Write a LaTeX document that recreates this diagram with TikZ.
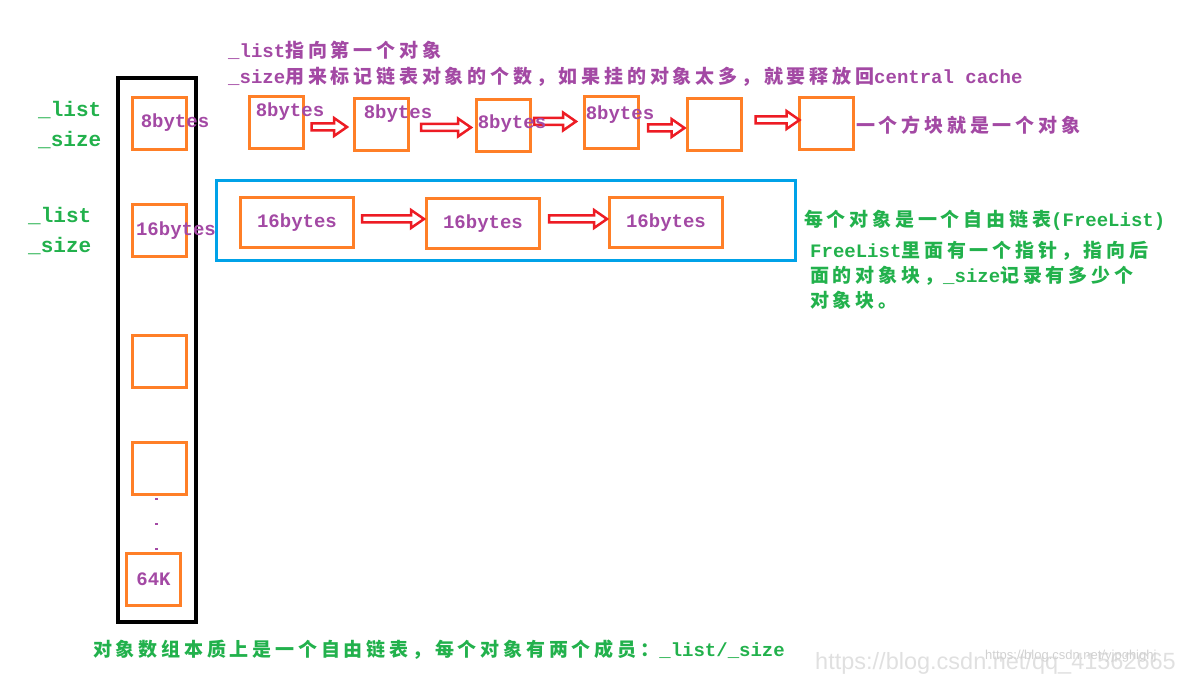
\documentclass[tikz,border=0pt]{standalone}
\usepackage{fontspec}
\setmainfont{Liberation Mono}
\newfontfamily\cjk{Noto Sans CJK SC}[LetterSpace=20]
\newfontfamily\wmfont{Liberation Sans}
\usetikzlibrary{calc}

\definecolor{mora}{RGB}{255,127,39}
\definecolor{mred}{RGB}{237,28,36}
\definecolor{mblu}{RGB}{0,162,232}
\definecolor{mpur}{RGB}{163,73,164}
\definecolor{mgre}{RGB}{34,177,76}
\newcommand\zhtxt[1]{{\cjk #1}}

\begin{document}
\begin{tikzpicture}[x=1pt, y=-1pt,
		blk/.style={draw=mora, line width=3pt, minimum width=54pt, minimum height=52pt, inner sep=0pt},
		wide/.style={blk, minimum width=113pt, minimum height=50pt},
		lbl/.style={text=mpur, font=\bfseries\fontsize{19}{22}\selectfont, inner sep=0pt},
		note/.style={lbl, anchor=west},
		gnote/.style={note, text=mgre},
		fat/.style={draw=mred, line width=2.5pt, fill=white, line join=miter,
				to path={let \p1=(\tikztostart), \p2=(\tikztotarget) in
						(\x1,{\y1+3.5pt}) -- ({\x2-13pt},{\y1+3.5pt}) -- ({\x2-13pt},{\y1+9pt}) -- (\x2,\y1)
						-- ({\x2-13pt},{\y1-9pt}) -- ({\x2-13pt},{\y1-3.5pt}) -- (\x1,{\y1-3.5pt}) -- cycle}}]
	\useasboundingbox (0,0) rectangle (1203,676);

	% --- Object array (column) ---
	\draw[line width=4pt] (118,78) rectangle (196,622);
	\node[blk] (col1) at (159,124) {};
	\node[blk] (col2) at (159.5,231) {};
	\node[blk] (col3) at (159.5,362) {};
	\node[blk] (col4) at (159.5,468) {};
	\node[blk, lbl] (col5) at (153.5,579.5) {64K};
	\node[lbl] (col1t) at (175,123) {8bytes};
	\node[lbl] (col2t) at (176,231) {16bytes};
	\foreach \y in {499,524,549} {
			\fill[mpur] (155,\y-1) rectangle (158,\y+1); % the dots
		}

	% members of each entry
	\node[gnote, font=\bfseries\fontsize{21}{30}\selectfont, align=left] (ls1) at (38,125) {\_list\\\_size};
	\node[gnote, font=\bfseries\fontsize{21}{30}\selectfont, align=left] (ls2) at (28,231) {\_list\\\_size};

	% --- 8bytes free list ---
	\node[note] (top1) at (228,50) {\_list\zhtxt{指向第一个对象}};
	\node[note] (top2) at (228,77) {\_size\zhtxt{用来标记链表对象的个数，如果挂的对象太多，就要释放回}central cache};

	\node[blk] (b1) at (276,123) {};
	\node[blk] (b2) at (381.5,124.5) {};
	\node[blk] (b3) at (503.5,125.5) {};
	\node[blk] (b4) at (611.5,123) {};
	\node[blk] (b5) at (714,125) {};
	\node[blk] (b6) at (826,123.5) {};
	\node[note] (blkn) at (856,125) {\zhtxt{一个方块就是一个对象}};

	\foreach \a/\b/\s/\e/\dy in {b1/b2/7/-6/4, b2/b3/11/-4/3, b3/b4/2/-7/-4, b4/b5/8/-1/5, b5/b6/13/2/-5} {
			\draw[fat] ($(\a.east)+(\s,\dy)$) to ($(\b.west)+(\e,\dy)$);
		}

	% labels drawn over the arrows
	\node[lbl] (b1t) at (290,112) {8bytes};
	\node[lbl] (b2t) at (398,114) {8bytes};
	\node[lbl] (b3t) at (512,124) {8bytes};
	\node[lbl] (b4t) at (620,115) {8bytes};

	% --- 16bytes free list ---
	\draw[mblu, line width=3pt] (216,181) rectangle (795,261);
	\node[wide, lbl] (w1) at (297,223) {16bytes};
	\node[wide, lbl] (w2) at (483,224) {16bytes};
	\node[wide, lbl] (w3) at (666,222.5) {16bytes};
	\draw[fat] ($(w1.east)+(7,-4)$) to ($(w2.west)+(-1,-4)$);
	\draw[fat] ($(w2.east)+(8,-5)$) to ($(w3.west)+(-1,-5)$);

	\node[gnote] (fl1) at (804,220) {\zhtxt{每个对象是一个自由链表}(FreeList)};
	\node[gnote, font=\bfseries\fontsize{19}{25}\selectfont, align=left, anchor=north west] (fl2) at (810,241) {FreeList\zhtxt{里面有一个指针，指向后}\\\zhtxt{面的对象块，}\_size\zhtxt{记录有多少个}\\\zhtxt{对象块。}};

	% bottom note
	\node[gnote] (sum) at (93,650) {\zhtxt{对象数组本质上是一个自由链表，每个对象有两个成员：}\_list/\_size};

	% watermark
	\node[anchor=west, text=black!12, font=\wmfont\fontsize{23.5}{25}\selectfont, inner sep=0pt] (wm1) at (815,663) {https://blog.csdn.net/qq\_41562665};
	\node[anchor=west, text=black!18, font=\wmfont\fontsize{13}{15}\selectfont, inner sep=0pt] (wm2) at (985,656) {https://blog.csdn.net/yjpghighj};
\end{tikzpicture}
\end{document}
